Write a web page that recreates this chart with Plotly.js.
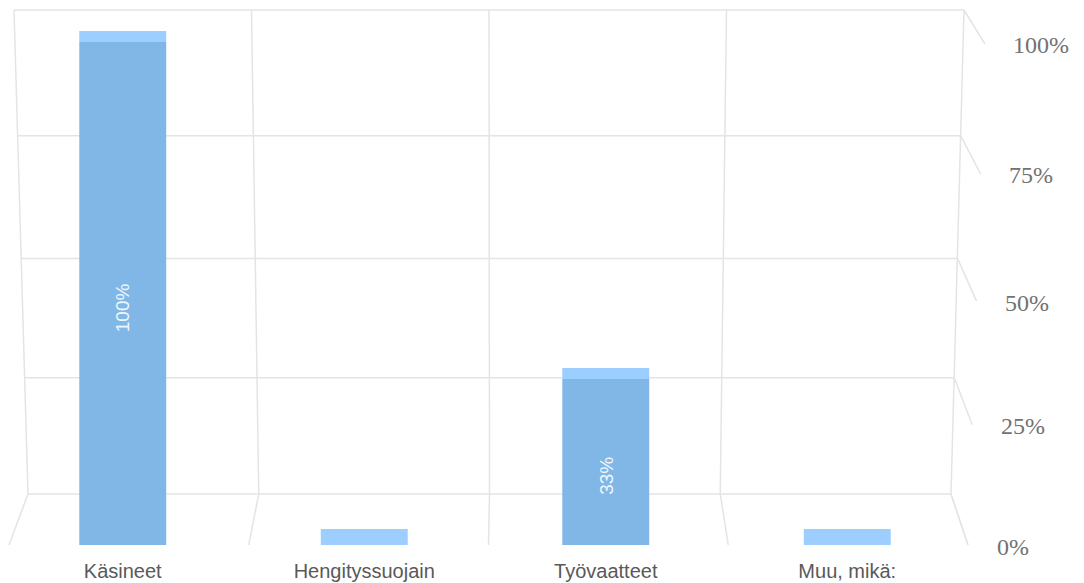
<!DOCTYPE html>
<html>
<head>
<meta charset="utf-8">
<script src="https://cdn.plot.ly/plotly-3.0.1.min.js"></script>
<style>
  html, body { margin: 0; padding: 0; background: #ffffff; }
  #chart { width: 1084px; height: 583px; }
</style>
</head>
<body>
<div id="chart"></div>
<script>
// Survey answers: share of respondents per protective equipment type
const categories = ['Käsineet', 'Hengityssuojain', 'Työvaatteet', 'Muu, mikä:'];
const shares = [100, 0, 33, 0];
const tickValues = [0, 25, 50, 75, 100];
const tickLabels = ['0%', '25%', '50%', '75%', '100%'];

const W = 1084, H = 583;
const px = x => x / W;
const py = y => 1 - y / H;
const lerp = (a, b, t) => a + (b - a) * t;
// slight perspective warp of the wall heights
const warp = t => t - 0.053 * t * (1 - t);

// pseudo-3D frame geometry (pixels)
const back = { top: 10, bottom: 494, topL: 14, topR: 964, botL: 28, botR: 951 };
const front = { floor: 545, ceil: 42, left: 2, right: 968, floorL: 9, floorR: 968 };
const unitPx = (front.floor - front.ceil) / 100;
const yMax = 104;
const gridColor = '#e4e4e4';

const shapes = [];
const line = (x0, y0, x1, y1) => shapes.push({
  type: 'line', xref: 'paper', yref: 'paper',
  x0: px(x0), y0: py(y0), x1: px(x1), y1: py(y1),
  line: { color: gridColor, width: 1.5 }, layer: 'below'
});

// back wall: horizontal gridlines plus connectors to the value labels
tickValues.forEach(v => {
  const t = v / 100;
  const y = lerp(back.bottom, back.top, warp(t));
  line(lerp(back.botL, back.topL, t), y, lerp(back.botR, back.topR, t), y);
  line(lerp(back.botR, back.topR, t), y,
       front.floorR + 17 * t, lerp(front.floor, front.ceil + 2, warp(t)));
});

// back wall verticals and floor lines at category boundaries
const nB = categories.length;
for (let i = 0; i <= nB; i++) {
  const xt = lerp(back.topL, back.topR, i / nB);
  const xb = lerp(back.botL, back.botR, i / nB);
  line(xt, back.top, xb, back.bottom);
  line(xb, back.bottom, lerp(front.floorL, front.floorR, i / nB), front.floor);
}

// value labels on the right side
const annotations = tickValues.map((v, k) => ({
  xref: 'paper', yref: 'paper',
  x: px(995 + 0.16 * v), y: py(547 - 502 * warp(v / 100)),
  xanchor: 'left', yanchor: 'middle', showarrow: false,
  text: tickLabels[k],
  font: { family: 'Liberation Serif, Times New Roman, serif', size: 24, color: '#727272' }
}));

// percentage written inside each non-empty bar
shares.forEach((v, k) => {
  if (v <= 0) return;
  annotations.push({
    xref: 'x', yref: 'y', x: categories[k], y: v / 2,
    yshift: -14, textangle: -90, showarrow: false,
    text: v + '%',
    font: { family: 'Liberation Sans, Arial, sans-serif', size: 19, color: '#eef6fd' }
  });
});

// top face depth of each bar (thicker near the floor)
const topDepth = shares.map(v => v > 0 ? 2.2 : 3.2);

const frontFace = {
  type: 'bar', x: categories, y: shares,
  width: 0.36,
  marker: { color: '#80b7e6', line: { width: 0 } },
  hoverinfo: 'skip'
};

const topFace = {
  type: 'bar', x: categories, y: topDepth, base: shares,
  width: 0.36,
  marker: { color: '#9cceff', line: { width: 0 } },
  hoverinfo: 'skip'
};

const layout = {
  width: W, height: H,
  margin: { l: 0, r: 0, t: 0, b: 0 },
  paper_bgcolor: '#ffffff', plot_bgcolor: 'rgba(0,0,0,0)',
  showlegend: false,
  barmode: 'overlay',
  xaxis: {
    domain: [px(front.left), px(front.right)],
    range: [-0.5, 3.5],
    showgrid: false, zeroline: false, showline: false, ticks: '',
    ticklabelstandoff: 12,
    tickfont: { family: 'Liberation Sans, Arial, sans-serif', size: 20, color: '#595959' },
    fixedrange: true
  },
  yaxis: {
    domain: [py(front.floor), py(front.floor - yMax * unitPx)],
    range: [0, yMax],
    showgrid: false, zeroline: false, showline: false,
    showticklabels: false, ticks: '', fixedrange: true
  },
  shapes: shapes,
  annotations: annotations
};

Plotly.newPlot('chart', [frontFace, topFace], layout, { displayModeBar: false, staticPlot: true });
</script>
</body>
</html>
